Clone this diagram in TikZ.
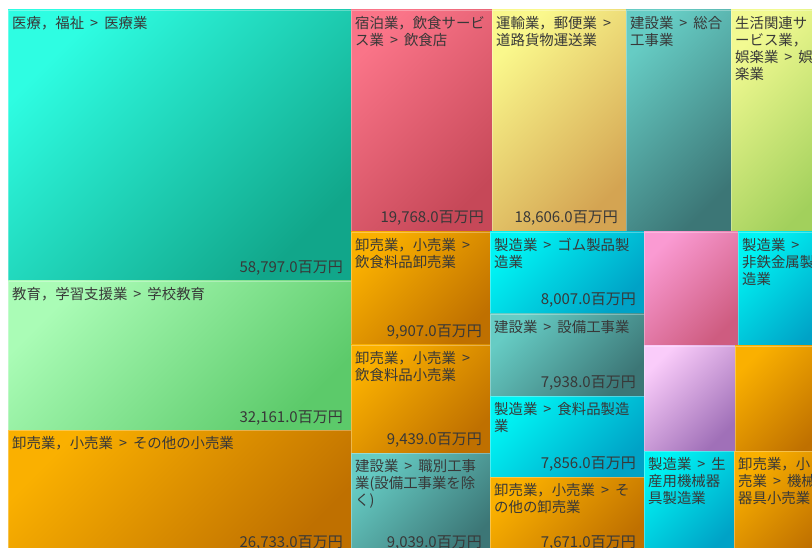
\documentclass[tikz,border=0pt]{standalone}
\usepackage{fontspec}
\setmainfont{Noto Sans CJK JP}
\usepackage{tikz}

\newcommand{\sepmark}{\hspace{0.42em}>\hspace{0.42em}}

\tikzset{
  cell/.style 2 args={top color=#1, bottom color=#2, shading angle=45,
                      draw=white, draw opacity=0.3, line width=0.8pt},
  label-text/.style={anchor=north west, inner sep=0pt, align=left, text=black!78,
                     font=\fontsize{14.4}{17}\selectfont},
  value-text/.style={anchor=base east, inner sep=0pt, text=black!78,
                     font=\fontsize{15}{17}\selectfont}
}

\definecolor{medical-tl}{HTML}{2EFDE2}
\definecolor{medical-br}{HTML}{11A68A}
\definecolor{school-tl}{HTML}{AAFCB6}
\definecolor{school-br}{HTML}{5CCA6A}
\definecolor{restaurant-tl}{HTML}{FA7488}
\definecolor{restaurant-br}{HTML}{C64858}
\definecolor{trucking-tl}{HTML}{FAF88C}
\definecolor{trucking-br}{HTML}{D4A452}
\definecolor{leisure-tl}{HTML}{F2FA92}
\definecolor{leisure-br}{HTML}{A2D05C}
\definecolor{pink-tl}{HTML}{FA9AD2}
\definecolor{pink-br}{HTML}{CE5C80}
\definecolor{purple-tl}{HTML}{FACCFA}
\definecolor{purple-br}{HTML}{A070B8}
\definecolor{orange-tl}{HTML}{FAB000}
\definecolor{orange-br}{HTML}{BF7000}
\definecolor{teal-tl}{HTML}{66CCC4}
\definecolor{teal-br}{HTML}{3C7676}
\definecolor{cyan-tl}{HTML}{00F4F4}
\definecolor{cyan-br}{HTML}{00A2C6}

\begin{document}
\begin{tikzpicture}[x=1pt, y=-1pt]
            \useasboundingbox (0,0) rectangle (812,548);
            \fill [white] (0,0) rectangle (812,548);
            \clip (0,0) rectangle (812,548);
            % big cells on the left
            \shadedraw [cell={medical-tl}{medical-br}] (8,10) coordinate (medical-nw)
                  rectangle (351,281) coordinate (medical-se);
            \shadedraw [cell={school-tl}{school-br}] (8,281) coordinate (school-nw)
                  rectangle (351,430) coordinate (school-se);
            \shadedraw [cell={orange-tl}{orange-br}] (8,430) coordinate (retail-other-nw)
                  rectangle (351,556) coordinate (retail-other-se);
            % top row
            \shadedraw [cell={restaurant-tl}{restaurant-br}] (351,10) coordinate (restaurant-nw)
                  rectangle (492,232) coordinate (restaurant-se);
            \shadedraw [cell={trucking-tl}{trucking-br}] (492,10) coordinate (trucking-nw)
                  rectangle (626,232) coordinate (trucking-se);
            \shadedraw [cell={teal-tl}{teal-br}] (626,10) coordinate (general-works-nw)
                  rectangle (731,232) coordinate (general-works-se);
            \shadedraw [cell={leisure-tl}{leisure-br}] (731,10) coordinate (leisure-nw)
                  rectangle (830,232) coordinate (leisure-se);
            % second column
            \shadedraw [cell={orange-tl}{orange-br}] (351,232) coordinate (food-wholesale-nw)
                  rectangle (490,345) coordinate (food-wholesale-se);
            \shadedraw [cell={orange-tl}{orange-br}] (351,345) coordinate (food-retail-nw)
                  rectangle (490,453) coordinate (food-retail-se);
            \shadedraw [cell={teal-tl}{teal-br}] (351,453) coordinate (trade-works-nw)
                  rectangle (490,556) coordinate (trade-works-se);
            % third column
            \shadedraw [cell={cyan-tl}{cyan-br}] (490,232) coordinate (rubber-nw)
                  rectangle (644,314) coordinate (rubber-se);
            \shadedraw [cell={teal-tl}{teal-br}] (490,314) coordinate (equipment-works-nw)
                  rectangle (644,396) coordinate (equipment-works-se);
            \shadedraw [cell={cyan-tl}{cyan-br}] (490,396) coordinate (food-making-nw)
                  rectangle (644,477) coordinate (food-making-se);
            \shadedraw [cell={orange-tl}{orange-br}] (490,477) coordinate (wholesale-other-nw)
                  rectangle (644,556) coordinate (wholesale-other-se);
            % small cells on the right
            \shadedraw [cell={pink-tl}{pink-br}] (644,232) rectangle (738,346);
            \shadedraw [cell={cyan-tl}{cyan-br}] (738,232) coordinate (nonferrous-nw)
                  rectangle (830,346);
            \shadedraw [cell={purple-tl}{purple-br}] (644,346) rectangle (735,451);
            \shadedraw [cell={orange-tl}{orange-br}] (735,346) rectangle (830,451);
            \shadedraw [cell={cyan-tl}{cyan-br}] (644,451) coordinate (machinery-nw)
                  rectangle (734,556);
            \shadedraw [cell={orange-tl}{orange-br}] (734,451) coordinate (machine-shop-nw)
                  rectangle (830,556);
            % labels
            \node [label-text] (medical-label) at ([xshift=4pt,yshift=-6pt]medical-nw) {医療，福祉\sepmark 医療業};
            \node [value-text] (medical-value) at ([xshift=-8pt,yshift=8pt]medical-se) {58,797.0百万円};
            \node [label-text] (school-label) at ([xshift=4pt,yshift=-6pt]school-nw) {教育，学習支援業\sepmark 学校教育};
            \node [value-text] (school-value) at ([xshift=-8pt,yshift=8pt]school-se) {32,161.0百万円};
            \node [label-text] (retail-other-label) at ([xshift=4pt,yshift=-6pt]retail-other-nw) {卸売業，小売業\sepmark その他の小売業};
            \node [value-text] (retail-other-value) at ([xshift=-8pt,yshift=9pt]retail-other-se) {26,733.0百万円};
            \node [label-text] (restaurant-label) at ([xshift=4pt,yshift=-6pt]restaurant-nw) {宿泊業，飲食サービ\\ス業\sepmark 飲食店};
            \node [value-text] (restaurant-value) at ([xshift=-8pt,yshift=9pt]restaurant-se) {19,768.0百万円};
            \node [label-text] (trucking-label) at ([xshift=4pt,yshift=-6pt]trucking-nw) {運輸業，郵便業\sepmark\\道路貨物運送業};
            \node [value-text] (trucking-value) at ([xshift=-8pt,yshift=9pt]trucking-se) {18,606.0百万円};
            \node [label-text] (general-works-label) at ([xshift=4pt,yshift=-6pt]general-works-nw) {建設業\sepmark 総合\\工事業};
            \node [label-text] (leisure-label) at ([xshift=4pt,yshift=-6pt]leisure-nw) {生活関連サ\\ービス業，\\娯楽業\sepmark 娯\\楽業};
            \node [label-text] (food-wholesale-label) at ([xshift=4pt,yshift=-6pt]food-wholesale-nw) {卸売業，小売業\sepmark\\飲食料品卸売業};
            \node [value-text] (food-wholesale-value) at ([xshift=-8pt,yshift=8pt]food-wholesale-se) {9,907.0百万円};
            \node [label-text] (food-retail-label) at ([xshift=4pt,yshift=-6pt]food-retail-nw) {卸売業，小売業\sepmark\\飲食料品小売業};
            \node [value-text] (food-retail-value) at ([xshift=-8pt,yshift=9pt]food-retail-se) {9,439.0百万円};
            \node [label-text] (trade-works-label) at ([xshift=4pt,yshift=-6pt]trade-works-nw) {建設業\sepmark 職別工事\\業(設備工事業を除\\く)};
            \node [value-text] (trade-works-value) at ([xshift=-8pt,yshift=9pt]trade-works-se) {9,039.0百万円};
            \node [label-text] (rubber-label) at ([xshift=4pt,yshift=-6pt]rubber-nw) {製造業\sepmark ゴム製品製\\造業};
            \node [value-text] (rubber-value) at ([xshift=-8pt,yshift=9pt]rubber-se) {8,007.0百万円};
            \node [label-text] (equipment-works-label) at ([xshift=4pt,yshift=-6pt]equipment-works-nw) {建設業\sepmark 設備工事業};
            \node [value-text] (equipment-works-value) at ([xshift=-8pt,yshift=9pt]equipment-works-se) {7,938.0百万円};
            \node [label-text] (food-making-label) at ([xshift=4pt,yshift=-6pt]food-making-nw) {製造業\sepmark 食料品製造\\業};
            \node [value-text] (food-making-value) at ([xshift=-8pt,yshift=9pt]food-making-se) {7,856.0百万円};
            \node [label-text] (wholesale-other-label) at ([xshift=4pt,yshift=-6pt]wholesale-other-nw) {卸売業，小売業\sepmark そ\\の他の卸売業};
            \node [value-text] (wholesale-other-value) at ([xshift=-8pt,yshift=9pt]wholesale-other-se) {7,671.0百万円};
            \node [label-text] (nonferrous-label) at ([xshift=4pt,yshift=-6pt]nonferrous-nw) {製造業\sepmark\\非鉄金属製\\造業};
            \node [label-text] (machinery-label) at ([xshift=4pt,yshift=-6pt]machinery-nw) {製造業\sepmark 生\\産用機械器\\具製造業};
            \node [label-text] (machine-shop-label) at ([xshift=4pt,yshift=-6pt]machine-shop-nw) {卸売業，小\\売業\sepmark 機械\\器具小売業};
\end{tikzpicture}
\end{document}
